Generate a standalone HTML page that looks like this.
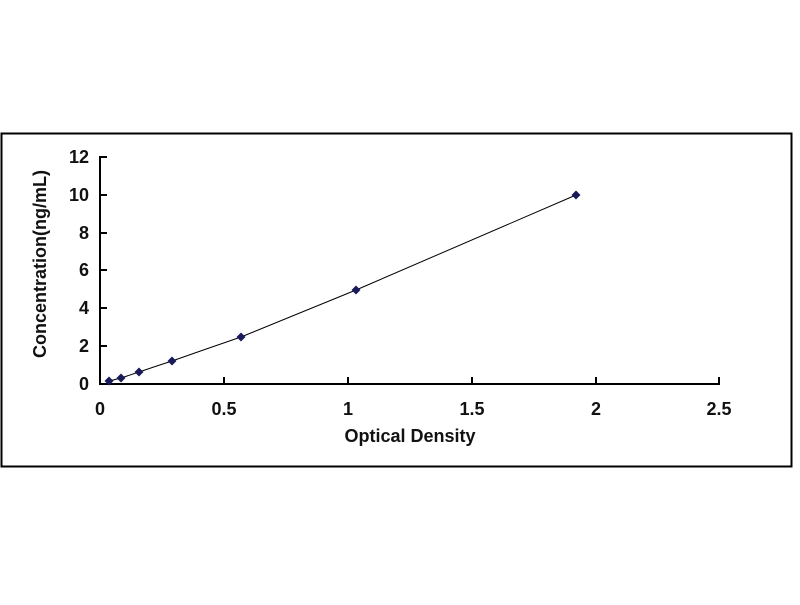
<!DOCTYPE html>
<html><head><style>body{margin:0;background:#fff}</style></head><body>
<svg width="800" height="600" xmlns="http://www.w3.org/2000/svg" font-family="Liberation Sans, sans-serif" font-weight="bold">
<rect x="1.5" y="133.5" width="790" height="333" fill="none" stroke="#000" stroke-width="2"/>
<g stroke="#000" stroke-width="2">
<line x1="100" y1="156" x2="100" y2="384"/>
<line x1="99" y1="384" x2="720" y2="384"/>
<line x1="100" y1="157" x2="107" y2="157"/>
<line x1="100" y1="195" x2="107" y2="195"/>
<line x1="100" y1="233" x2="107" y2="233"/>
<line x1="100" y1="270" x2="107" y2="270"/>
<line x1="100" y1="308" x2="107" y2="308"/>
<line x1="100" y1="346" x2="107" y2="346"/>
<line x1="224" y1="384" x2="224" y2="377"/>
<line x1="348" y1="384" x2="348" y2="377"/>
<line x1="472" y1="384" x2="472" y2="377"/>
<line x1="596" y1="384" x2="596" y2="377"/>
<line x1="719" y1="384" x2="719" y2="377"/>
</g>
<g font-size="18" text-anchor="end" fill="#111">
<text x="89" y="163">12</text><text x="89" y="201">10</text><text x="89" y="239">8</text>
<text x="89" y="276">6</text><text x="89" y="314">4</text><text x="89" y="352">2</text><text x="89" y="390">0</text>
</g>
<g font-size="18" text-anchor="middle" fill="#111">
<text x="100" y="415">0</text><text x="224" y="415">0.5</text><text x="348" y="415">1</text>
<text x="472" y="415">1.5</text><text x="596" y="415">2</text><text x="719" y="415">2.5</text>
</g>
<text x="410" y="442" font-size="18" text-anchor="middle" fill="#111">Optical Density</text>
<text transform="translate(46,264) rotate(-90)" font-size="18" text-anchor="middle" fill="#111">Concentration(ng/mL)</text>
<path fill="none" stroke="#000" stroke-width="1" d="M109,381 Q115,379.5 121,378 Q130,375 139,372 Q155,366.5 172,361 Q206,349 241,337 Q300,313 356,290 Q466,242 576,195"/>
<g fill="#1a1a5a">
<path d="M109,376.5 l4.5,4.5 -4.5,4.5 -4.5,-4.5z"/>
<path d="M121,373.5 l4.5,4.5 -4.5,4.5 -4.5,-4.5z"/>
<path d="M139,367.5 l4.5,4.5 -4.5,4.5 -4.5,-4.5z"/>
<path d="M172,356.5 l4.5,4.5 -4.5,4.5 -4.5,-4.5z"/>
<path d="M241,332.5 l4.5,4.5 -4.5,4.5 -4.5,-4.5z"/>
<path d="M356,285.5 l4.5,4.5 -4.5,4.5 -4.5,-4.5z"/>
<path d="M576,190.5 l4.5,4.5 -4.5,4.5 -4.5,-4.5z"/>
</g>
</svg>
</body></html>
